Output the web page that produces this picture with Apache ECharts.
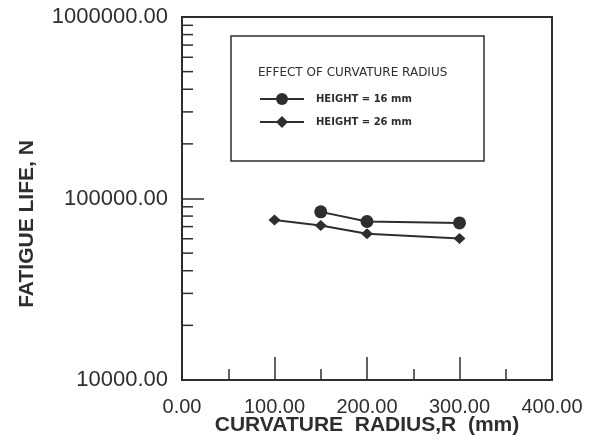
<!DOCTYPE html>
<html>
<head>
<meta charset="utf-8">
<script src="https://cdn.jsdelivr.net/npm/echarts@6/dist/echarts.min.js"></script>
<style>html,body{margin:0;padding:0;background:#fff;}#c{width:608px;height:447px;}</style>
</head>
<body>
<div id="c"></div>
<script>
// Data
const radius16 = [150, 200, 300];
const life16 = [84400, 74700, 73400];
const radius26 = [100, 150, 200, 300];
const life26 = [76200, 71000, 64000, 60200];
const seriesNames = ['HEIGHT = 16 mm', 'HEIGHT = 26 mm'];
const legendTitle = 'EFFECT OF CURVATURE RADIUS';
const xTitle = 'CURVATURE  RADIUS,R  (mm)';
const yTitle = 'FATIGUE LIFE, N';
const yMinorTickValues = [20000, 30000, 40000, 50000, 60000, 70000, 80000, 90000,
  200000, 300000, 400000, 500000, 600000, 700000, 800000, 900000];

const INK = '#2e2e2e';
const chart = echarts.init(document.getElementById('c'), null, {renderer: 'canvas'});

const option = {
  backgroundColor: '#fff',
  animation: false,
  grid: {left: 182, top: 17, right: 56, bottom: 67, outerBoundsMode: 'none', containLabel: false,
    show: true, borderColor: INK, borderWidth: 2, backgroundColor: 'transparent'},
  title: {
    text: legendTitle, left: 258, top: 67, padding: 0,
    textStyle: {fontFamily: 'DejaVu Sans', fontSize: 12, fontWeight: 'normal', color: INK}
  },
  legend: {
    data: seriesNames, orient: 'vertical', left: 259, top: 93, padding: 0,
    itemWidth: 44, itemHeight: 15, itemGap: 11,
    textStyle: {fontFamily: 'DejaVu Sans', fontSize: 10, fontWeight: 'bold', color: INK, padding: [0, 0, 0, 7]}
  },
  xAxis: {
    type: 'value', min: 0, max: 400, interval: 100,
    axisLine: {show: true, lineStyle: {color: INK, width: 2}},
    axisTick: {show: true, inside: true, length: 23, lineStyle: {color: INK, width: 1.5}},
    minorTick: {show: true, splitNumber: 2, length: 11, lineStyle: {color: INK, width: 1.5}},
    splitLine: {show: false},
    axisLabel: {margin: 17, fontFamily: 'Liberation Sans', fontSize: 20, color: INK,
      formatter: v => v.toFixed(2)},
    name: xTitle, nameLocation: 'middle', nameGap: 35, nameMoveOverlap: false,
    nameTextStyle: {fontFamily: 'Liberation Sans', fontWeight: 'bold', fontSize: 21, color: INK}
  },
  yAxis: {
    type: 'log', logBase: 10, min: 10000, max: 1000000,
    axisLine: {show: true, lineStyle: {color: INK, width: 2}},
    axisTick: {show: true, inside: true, length: 22, lineStyle: {color: INK, width: 1.5}},
    splitLine: {show: false},
    axisLabel: {margin: 14, fontFamily: 'Liberation Sans', fontSize: 22, color: INK,
      formatter: v => Number(v).toFixed(2)}
  },
  graphic: [
    {type: 'rect', shape: {x: 231, y: 36, width: 253, height: 125},
      style: {fill: 'none', stroke: INK, lineWidth: 1.5}, z: 100},
    {type: 'text', x: 27, y: 224, rotation: Math.PI / 2,
      style: {text: yTitle, fontFamily: 'Liberation Sans', fontWeight: 'bold', fontSize: 21,
        fill: INK, align: 'center', verticalAlign: 'middle'}}
  ],
  series: [
    {
      name: seriesNames[0], type: 'line',
      data: radius16.map((x, i) => [x, life16[i]]),
      symbol: 'circle', symbolSize: 13,
      lineStyle: {color: INK, width: 2}, itemStyle: {color: INK}
    },
    {
      name: seriesNames[1], type: 'line',
      data: radius26.map((x, i) => [x, life26[i]]),
      symbol: 'diamond', symbolSize: [12, 11],
      lineStyle: {color: INK, width: 2}, itemStyle: {color: INK}
    },
    {
      name: 'minor', type: 'custom', silent: true,
      data: yMinorTickValues.map(v => [0, v]),
      renderItem: (params, api) => {
        const p = api.coord([0, api.value(1)]);
        return {type: 'line', shape: {x1: p[0], y1: p[1], x2: p[0] + 11, y2: p[1]},
          style: {stroke: INK, lineWidth: 1.5}};
      }
    }
  ]
};
chart.setOption(option);
</script>
</body>
</html>
